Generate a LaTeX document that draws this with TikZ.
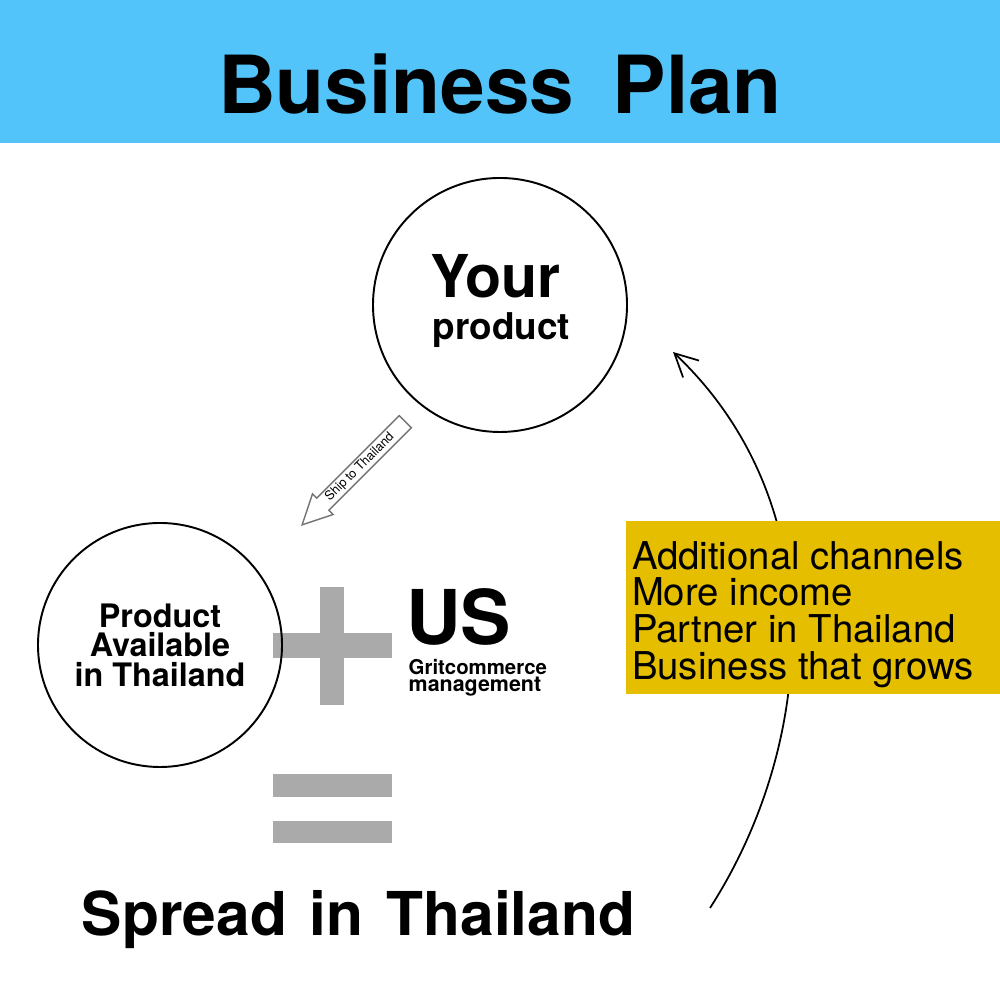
\documentclass[tikz,border=0pt]{standalone}
\usepackage{fontspec}
\setmainfont{TeX Gyre Heros}
\usetikzlibrary{positioning, shapes.arrows, arrows.meta}
\definecolor{headblue}{RGB}{82,196,250}
\definecolor{gainyellow}{RGB}{229,190,0}
\definecolor{signgray}{RGB}{170,170,170}
\tikzset{
bubble/.style={circle, draw, line width=0.55pt, inner sep=0pt}, % the two round nodes
bigword/.style={anchor=base, inner sep=0pt, font=\bfseries}, % bold words set on a baseline
shiparrow/.style={single arrow, draw=black!55, fill=white, line width=0.4pt,
  minimum height=1.46cm, single arrow head extend=0.06cm, single arrow tip angle=53,
  inner sep=0.5pt, font=\fontsize{3.6}{4}\selectfont, rotate=45, shape border rotate=180},
gainbox/.style={fill=gainyellow, minimum width=3.74cm, minimum height=1.73cm}, % the yellow panel
gaintext/.style={anchor=west, inner sep=0pt, align=left,
  font=\fontsize{10.9}{10.45}\selectfont}, % the list on it
sign/.style={fill=signgray}, % plus and equals bars
}

\begin{document}
\begin{tikzpicture}
        \useasboundingbox (0,0) rectangle (10,10);
        \fill[white] (0,0) rectangle (10,10);
        \fill[headblue] (0,8.57) rectangle (10,10);
        \node[bigword, font=\fontsize{22.8}{24}\selectfont\bfseries] (title) at (5,8.86) {Business\hspace{0.2em} Plan};

        \node[bubble, minimum size=2.54cm] (yours) at (5.00,6.95) {};
        \node[bigword, font=\fontsize{16.8}{18}\selectfont\bfseries] (your) at (4.955,7.02) {Your};
        \node[bigword, font=\fontsize{10.5}{12}\selectfont\bfseries] (prodword) at (5.015,6.60) {product};

        \node[shiparrow, anchor=tip] (ship) at (3.01,4.74) {Ship to Thailand};

        \fill[sign] (3.20,2.95) rectangle (3.44,4.13);
        \fill[sign] (2.73,3.42) rectangle (3.92,3.67);
        \fill[sign] (2.73,2.03) rectangle (3.92,2.26);
        \fill[sign] (2.73,1.57) rectangle (3.92,1.79);

        \node[bubble, minimum size=2.44cm, align=center,
          font=\fontsize{9.2}{8.4}\selectfont\bfseries] (avail) at (1.60,3.55) {Product\\Available\\in Thailand};

        \node[bigword, font=\fontsize{21.5}{22}\selectfont\bfseries] (us) at (4.585,3.55) {US};
        \node[bigword, anchor=base west, font=\fontsize{5.8}{6}\selectfont\bfseries] (grit) at (4.08,3.25) {Gritcommerce};
        \node[bigword, anchor=base west, font=\fontsize{6.1}{6}\selectfont\bfseries] (mgmt) at ([yshift=-0.165cm]grit.base west) {management};

        \node[bigword, font=\fontsize{17.2}{18}\selectfont\bfseries] (spread) at (3.585,0.64) {Spread\hspace{0.1em} in\hspace{0.1em} Thailand};

        \coordinate (loopstart) at (7.10,0.92);
        \coordinate (looptip) at (6.73,6.48);
        \draw[line width=0.5pt, -{Straight Barb[length=6.5pt,width=6.6pt]}] (loopstart) .. controls (8.15,2.55) and (8.35,4.95) .. (looptip);

        \node[gainbox] (gains) at (8.13,3.925) {};
        \node[gaintext] (gainlist) at ([xshift=0.06cm, yshift=-0.07cm]gains.west) {Additional channels\\More income\\Partner in Thailand\\Business that grows};
\end{tikzpicture}
\end{document}
